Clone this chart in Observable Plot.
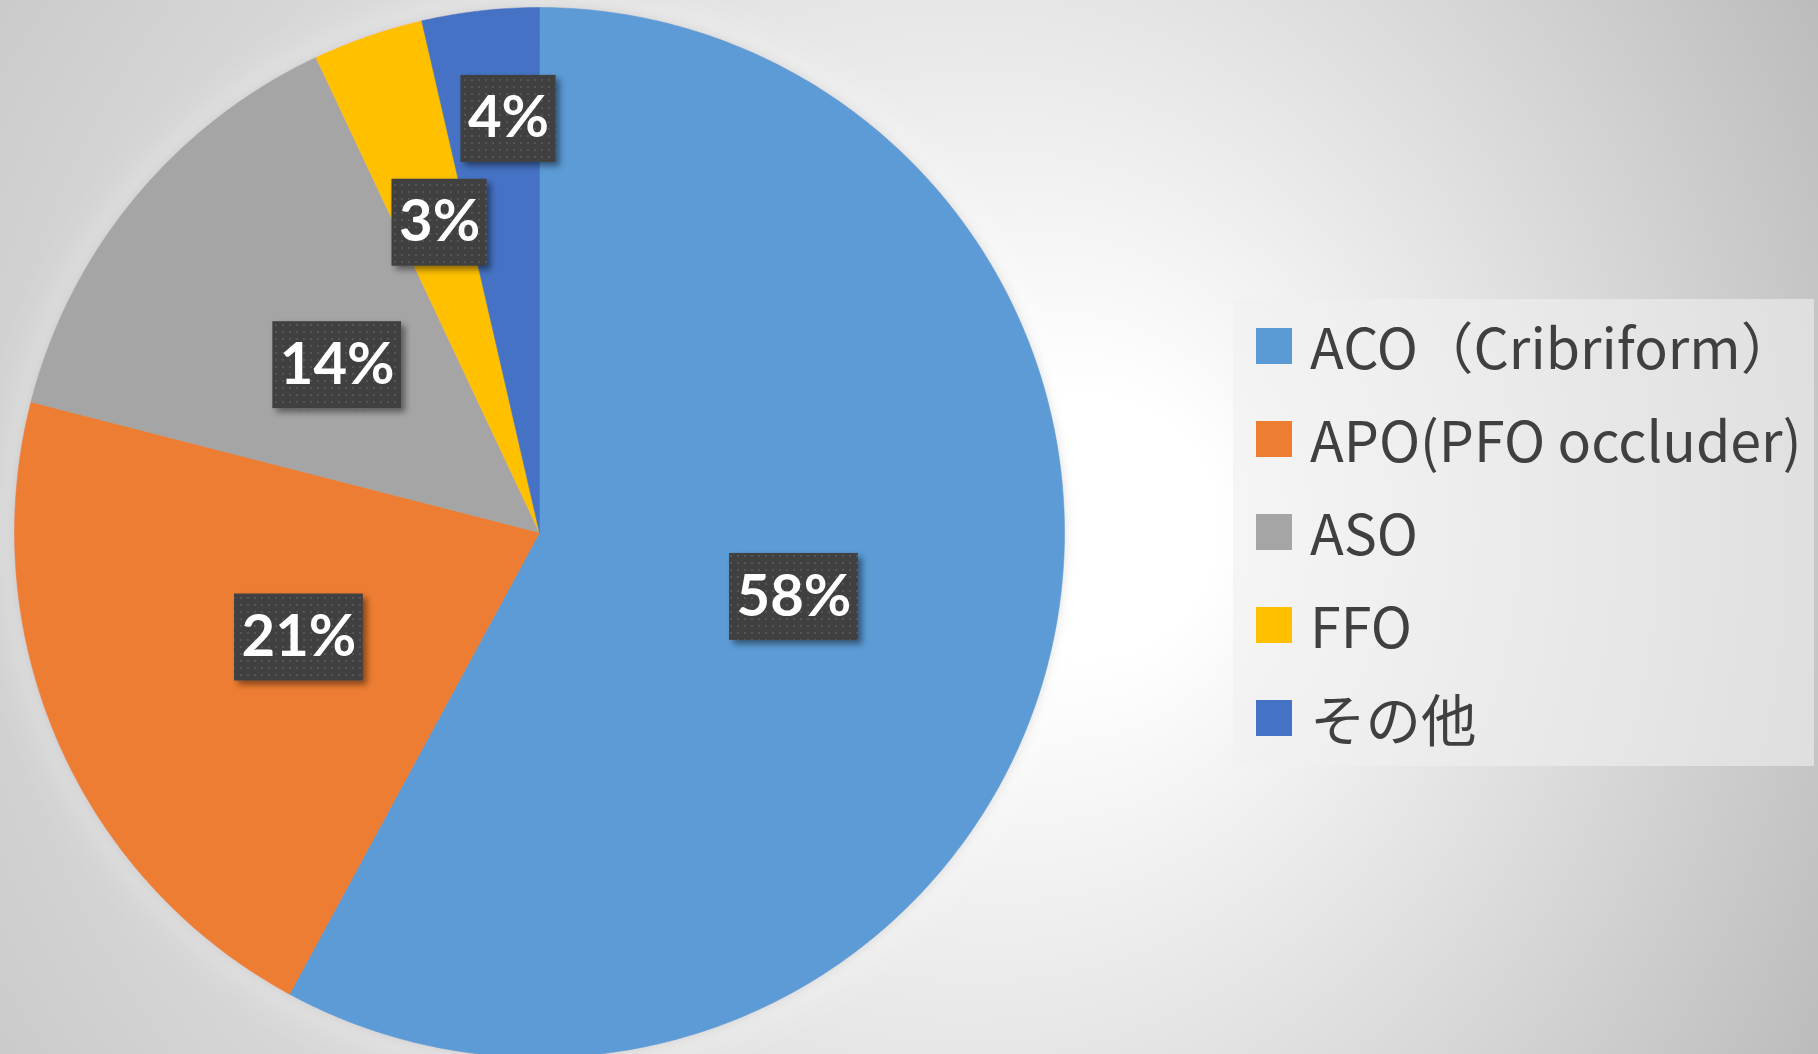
<!DOCTYPE html>
<html><head><meta charset="utf-8">
<script src="https://cdn.jsdelivr.net/npm/d3@7"></script>
<script src="https://cdn.jsdelivr.net/npm/@observablehq/plot@0.6"></script>
<style>
html,body{margin:0;padding:0;background:#fff;}
#chart{position:relative;width:1818px;height:1054px;overflow:hidden;}
#chart > svg{position:absolute;left:0;top:0;}
#legend{position:absolute;left:1233px;top:299px;width:581px;height:467px;background:rgba(240,240,240,0.6);}
#legend .leg-swatches{margin:0;padding:0.5px 0 0 23px;font-family:"Noto Sans CJK JP","Noto Sans",sans-serif;font-size:55.5px;color:#404040;}
#legend .leg-swatch{height:93px;padding-bottom:0;}
#legend .leg-swatch > svg{margin-right:18px;}
#legend .leg-swatch-label{overflow:visible;line-height:1;text-overflow:clip;}
</style></head>
<body><div id="chart"><div id="legend"></div></div>
<script>
// ---- data ----
const categories = ["ACO（Cribriform）", "APO(PFO occluder)", "ASO", "FFO", "その他"];
const shares = [57.9, 21.1, 14.0, 3.4, 3.6];
const percentLabels = ["58%", "21%", "14%", "3%", "4%"];
const colors = ["#5b9bd5", "#ed7d31", "#a5a5a5", "#ffc000", "#4472c4"];

// ---- layout (label placement, fraction of radius / degrees) ----
const labelRadius = [0.5, 0.5, 0.5, 0.62, 0.79];
const labelAngleShift = [0, 0, 0, 1.2, 2.2];

const W = 1818, H = 1054, CX = 539, CY = 532, R = 525;

const arcs = d3.pie().sort(null).value(d => d)(shares);
const slicePts = [];
arcs.forEach((a, i) => {
  const n = Math.max(2, Math.ceil((a.endAngle - a.startAngle) / 0.01));
  slicePts.push({name: categories[i], x: 0, y: 0});
  for (let k = 0; k <= n; k++) {
    const t = a.startAngle + (a.endAngle - a.startAngle) * k / n;
    slicePts.push({name: categories[i], x: Math.sin(t), y: Math.cos(t)});
  }
  slicePts.push({name: categories[i], x: 0, y: 0});
});
const labels = arcs.map((a, i) => {
  const t = (a.startAngle + a.endAngle) / 2 + labelAngleShift[i] * Math.PI / 180;
  const r = labelRadius[i];
  return {label: percentLabels[i], x: r * Math.sin(t), y: r * Math.cos(t)};
});

const plot = Plot.plot({
  width: W, height: H,
  marginLeft: CX - R, marginRight: W - (CX + R), marginTop: CY - R, marginBottom: 0,
  x: {domain: [-1, 1], axis: null},
  y: {domain: [-(H - CY) / R, 1], axis: null},
  color: {domain: categories, range: colors},
  style: {background: "transparent", overflow: "visible"},
  marks: [
    Plot.line(slicePts, {x: "x", y: "y", z: "name", fill: "name", stroke: "name", strokeWidth: 0.6, curve: "linear"}),
    Plot.text(labels, {x: "x", y: "y", text: "label", fill: "white", fontSize: 58, fontWeight: "bold", fontFamily: "Lato, 'Noto Sans', sans-serif"})
  ]
});

const chart = document.getElementById("chart");
chart.insertBefore(plot, chart.firstChild);

const svg = d3.select(plot);
const defs = svg.insert("defs", ":first-child");
const bg = defs.append("radialGradient").attr("id", "bgGrad").attr("gradientUnits", "userSpaceOnUse")
  .attr("cx", 700).attr("cy", 527).attr("r", 1300).attr("fx", 1130).attr("fy", 527);
bg.append("stop").attr("offset", 0).attr("stop-color", "#ffffff");
bg.append("stop").attr("offset", 0.1).attr("stop-color", "#ffffff");
bg.append("stop").attr("offset", 1).attr("stop-color", "#b6b6b6");

const pf = defs.append("filter").attr("id", "pieShadow").attr("x", "-15%").attr("y", "-15%").attr("width", "130%").attr("height", "130%");
pf.append("feGaussianBlur").attr("in", "SourceAlpha").attr("stdDeviation", 22).attr("result", "b1");
pf.append("feFlood").attr("flood-color", "#ffffff").attr("flood-opacity", 0.5).attr("result", "f1");
pf.append("feComposite").attr("in", "f1").attr("in2", "b1").attr("operator", "in").attr("result", "glow");
pf.append("feGaussianBlur").attr("in", "SourceAlpha").attr("stdDeviation", 6).attr("result", "b2");
pf.append("feFlood").attr("flood-color", "#000000").attr("flood-opacity", 0.25).attr("result", "f2");
pf.append("feComposite").attr("in", "f2").attr("in2", "b2").attr("operator", "in").attr("result", "shadow");
const pm = pf.append("feMerge");
pm.append("feMergeNode").attr("in", "glow");
pm.append("feMergeNode").attr("in", "shadow");
pm.append("feMergeNode").attr("in", "SourceGraphic");

const bf = defs.append("filter").attr("id", "boxShadow").attr("x", "-20%").attr("y", "-20%").attr("width", "150%").attr("height", "150%");
bf.append("feDropShadow").attr("dx", 4).attr("dy", 4).attr("stdDeviation", 3).attr("flood-color", "#000").attr("flood-opacity", 0.45);

const pat = defs.append("pattern").attr("id", "dots").attr("patternUnits", "userSpaceOnUse").attr("width", 7).attr("height", 7);
pat.append("rect").attr("width", 7).attr("height", 7).attr("fill", "#404040");
pat.append("rect").attr("x", 2).attr("y", 2).attr("width", 2).attr("height", 2).attr("fill", "#545454");

svg.insert("rect", "defs + *").attr("x", 0).attr("y", 0).attr("width", W).attr("height", H).attr("fill", "url(#bgGrad)");

svg.select('g[aria-label="line"]').attr("filter", "url(#pieShadow)");

const sx = plot.scale("x"), sy = plot.scale("y");
const boxG = svg.insert("g", 'g[aria-label="text"]').attr("filter", "url(#boxShadow)");
const texts = svg.select('g[aria-label="text"]').selectAll("text").nodes();
labels.forEach((d, i) => {
  const tw = texts[i] ? texts[i].getBoundingClientRect().width : 80;
  const w = tw + 14, h = 87;
  const cx = sx.apply(d.x), cy = sy.apply(d.y);
  boxG.append("rect").attr("x", cx - w / 2).attr("y", cy - h / 2).attr("width", w).attr("height", h).attr("fill", "url(#dots)");
});

const leg = plot.legend("color", {legend: "swatches", columns: 1, swatchSize: 36, className: "leg"});
document.getElementById("legend").appendChild(leg);
</script>
</body></html>
